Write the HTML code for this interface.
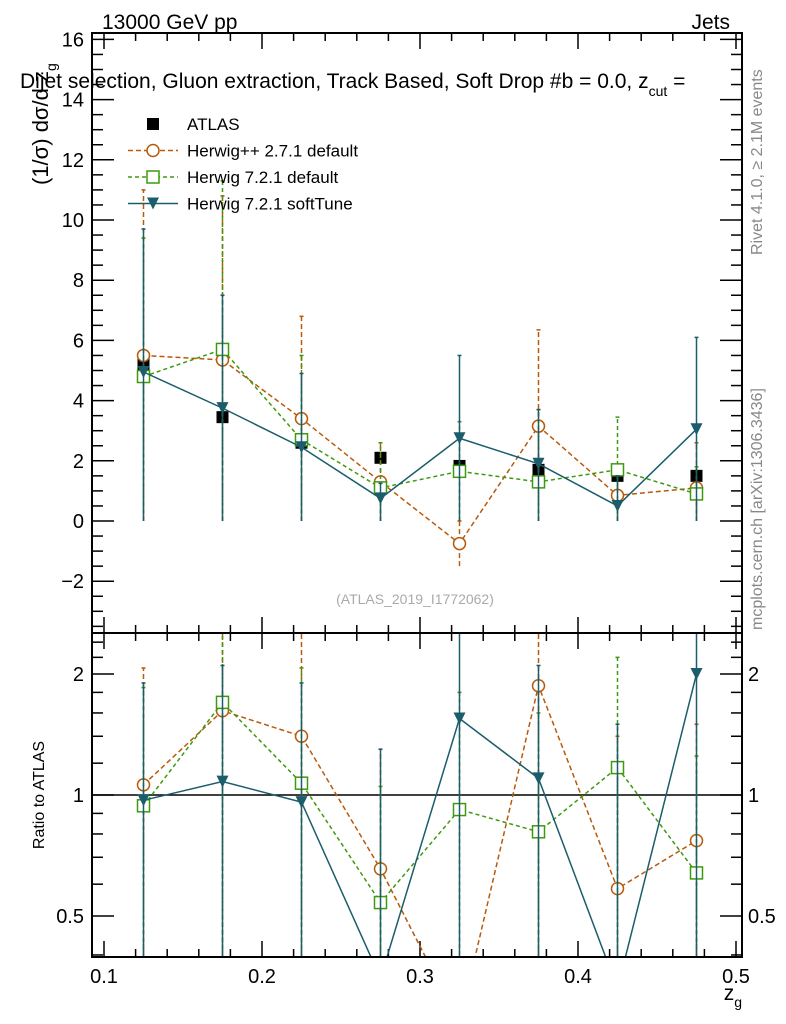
<!DOCTYPE html>
<html><head><meta charset="utf-8"><style>
html,body{margin:0;background:#fff;overflow:hidden;width:786px;height:1024px;}
svg{display:block;font-family:"Liberation Sans",sans-serif;}
</style></head><body>
<svg id="c" width="786" height="1024" viewBox="0 0 786 1024">
<text x="102" y="29" font-size="21">13000 GeV pp</text>
<text x="730" y="29" font-size="21" text-anchor="end">Jets</text>
<text x="20" y="88" font-size="21">Dijet selection, Gluon extraction, Track Based, Soft Drop #b = 0.0, z<tspan font-size="14" dy="8">cut</tspan><tspan dy="-8"> =</tspan></text>
<text transform="translate(48,185) rotate(-90)" font-size="22">(1/σ) dσ/d z<tspan font-size="14" dy="8">g</tspan></text>
<text transform="translate(44,795) rotate(-90)" font-size="16" text-anchor="middle">Ratio to ATLAS</text>
<text x="742" y="1000" font-size="21" text-anchor="end">z<tspan font-size="14" dy="7">g</tspan></text>
<text transform="translate(762,255) rotate(-90)" font-size="16" fill="#888">Rivet 4.1.0, ≥ 2.1M events</text>
<text transform="translate(762,630) rotate(-90)" font-size="16" fill="#888">mcplots.cern.ch [arXiv:1306.3436]</text>
<text x="415" y="604" font-size="14" fill="#aaa" text-anchor="middle">(ATLAS_2019_I1772062)</text>
<g id="g"></g>
</svg>
<script>
const xs=[0.125,0.175,0.225,0.275,0.325,0.375,0.425,0.475];
const atlas=[5.2,3.45,2.6,2.1,1.83,1.7,1.5,1.5];
const hpp=[5.5,5.35,3.4,1.3,-0.75,3.15,0.85,1.1];
const hppUp=[11.0,10.8,6.8,2.6,0.0,6.35,1.6,2.6];
const hppLo=[0,0,0,0,-1.5,0,0,0];
const h7=[4.8,5.7,2.7,1.1,1.65,1.3,1.7,0.9];
const h7Up=[9.4,11.3,5.5,2.6,3.3,3.7,3.45,1.8];
const soft=[4.95,3.75,2.45,0.75,2.75,1.9,0.5,3.05];
const softUp=[9.7,7.5,4.9,1.25,5.5,3.7,1.5,6.1];
const rHpp=[1.06,1.62,1.4,0.655,0.27,1.87,0.585,0.77];
const rHppUp=[2.07,3,3,1.3,0.3,3,1.4,1.5];
const rH7=[0.94,1.7,1.07,0.54,0.92,0.81,1.17,0.64];
const rH7Up=[1.85,3,2.07,1.05,1.8,1.6,2.2,1.25];
const rSoft=[0.97,1.08,0.96,0.35,1.55,1.1,0.33,2.0];
const rSoftUp=[1.9,2.1,1.9,1.3,3,2.1,1.5,3];
const xTicks=[0.1,0.2,0.3,0.4,0.5];
const yTicks=[-2,0,2,4,6,8,10,12,14,16];
const rTicks=[0.5,1,2];
const L=92,R=742,T=33,M=633,B=957;
const X=v=>104+(v-0.1)*1580;
const Y=v=>521-v*30.1;
const RY=v=>{if(v<=0)v=0.01;return 795-Math.log10(v)*402;};
const g=document.getElementById('g');
const NS='http://www.w3.org/2000/svg';
function el(t,a,p){const e=document.createElementNS(NS,t);for(const k in a)e.setAttribute(k,a[k]);(p||g).appendChild(e);return e;}
const cpM=el('clipPath',{id:'cm'});el('rect',{x:L,y:T,width:R-L,height:M-T},cpM);
const cpR=el('clipPath',{id:'cr'});el('rect',{x:L,y:M,width:R-L,height:B-M},cpR);
const tk=el('g',{stroke:'#000','stroke-width':1.5});


for(let v=0.1;v<=0.5001;v+=0.02){const big=Math.abs(v*10-Math.round(v*10))<1e-6;const len=big?16:8;const x=X(v);
 [[T,1],[M,-1],[M,1],[B,-1]].forEach(([y,d])=>el('line',{x1:x,x2:x,y1:y,y2:y+d*len},tk));}
for(let v=-3.5;v<=16.01;v+=0.5){const big=Math.abs(v/2-Math.round(v/2))<1e-6;const len=big?22:11;const y=Y(v);if(y<T||y>M)continue;
 el('line',{x1:L,x2:L+len,y1:y,y2:y},tk);el('line',{x1:R,x2:R-len,y1:y,y2:y},tk);}
[0.4,0.5,0.6,0.7,0.8,0.9,1,1.2,1.4,1.6,1.8,2,2.2,2.4].forEach(v=>{const big=rTicks.includes(v);const len=big?22:11;const y=RY(v);
 el('line',{x1:L,x2:L+len,y1:y,y2:y},tk);el('line',{x1:R,x2:R-len,y1:y,y2:y},tk);});
xTicks.forEach(v=>{const t=el('text',{x:X(v),y:983,'font-size':20,'text-anchor':'middle'});t.textContent=v.toFixed(1);
 });
yTicks.forEach(v=>{const t=el('text',{x:84,y:Y(v)+7,'font-size':20,'text-anchor':'end'});t.textContent=v<0?'−'+(-v):v;
 });
rTicks.forEach(v=>{const lab=v===0.5?'0.5':String(v);
 const t=el('text',{x:84,y:RY(v)+7,'font-size':20,'text-anchor':'end'});t.textContent=lab;
 
 const t2=el('text',{x:748,y:RY(v)+7,'font-size':20});t2.textContent=lab;
 });
el('line',{x1:L,x2:R,y1:RY(1),y2:RY(1),stroke:'#000','stroke-width':1.5});
function series(vals,lo,up,color,dash,marker,yf,clip,name){
 const gg=el('g',{'clip-path':'url(#'+clip+')'});
 
 
 xs.forEach((x,i)=>{const y1=yf(lo[i]),y2=yf(up[i]);
  el('line',{x1:X(x),x2:X(x),y1:y1,y2:y2,stroke:color,'stroke-width':1.5,'stroke-dasharray':dash},gg);
  el('line',{x1:X(x)-2,x2:X(x)+2,y1:y2,y2:y2,stroke:color,'stroke-width':1.5},gg);});
 el('polyline',{points:xs.map((x,i)=>X(x)+','+yf(vals[i])).join(' '),fill:'none',stroke:color,'stroke-width':1.5,'stroke-dasharray':dash},gg);
 xs.forEach((x,i)=>drawM(marker,X(x),yf(vals[i]),color,gg));}
function drawM(m,x,y,c,p){
 if(m==='o')el('circle',{cx:x,cy:y,r:6,fill:'#fff',stroke:c,'stroke-width':1.5},p);
 else if(m==='s')el('rect',{x:x-6,y:y-6,width:12,height:12,fill:'#fff',stroke:c,'stroke-width':1.5},p);
 else if(m==='v')el('polygon',{points:`${x-6},${y-6} ${x+6},${y-6} ${x},${y+6}`,fill:c},p);
 else el('rect',{x:x-6,y:y-6,width:12,height:12,fill:'#000'},p);}
const zero=xs.map(()=>0),rzero=xs.map(()=>0.01);
const cO='#b85a0c',cG='#3d9a0e',cS='#1b5d6b';
const ag=el('g',{'clip-path':'url(#cm)'});


xs.forEach((x,i)=>drawM('a',X(x),Y(atlas[i]),'#000',ag));
series(hpp,hppLo,hppUp,cO,'5,3','o',Y,'cm','herwigpp-series');
series(h7,zero,h7Up,cG,'4,3','s',Y,'cm','herwig7-default-series');
series(soft,zero,softUp,cS,'none','v',Y,'cm','herwig7-softtune-series');
series(rHpp,rzero,rHppUp,cO,'5,3','o',RY,'cr','herwigpp-ratio');
series(rH7,rzero,rH7Up,cG,'4,3','s',RY,'cr','herwig7-default-ratio');
series(rSoft,rzero,rSoftUp,cS,'none','v',RY,'cr','herwig7-softtune-ratio');
el('rect',{x:L,y:T,width:R-L,height:M-T,fill:'none',stroke:'#000','stroke-width':2});
el('rect',{x:L,y:M,width:R-L,height:B-M,fill:'none',stroke:'#000','stroke-width':2});
const lg=[['a','#000','none','ATLAS'],['o',cO,'5,3','Herwig++ 2.7.1 default'],['s',cG,'4,3','Herwig 7.2.1 default'],['v',cS,'none','Herwig 7.2.1 softTune']];
lg.forEach((e,i)=>{const y=124+i*26.5;const gg=el('g',{});
 
 
 if(e[0]!=='a')el('line',{x1:128,x2:178,y1:y,y2:y,stroke:e[1],'stroke-width':1.5,'stroke-dasharray':e[2]},gg);
 drawM(e[0],153,y,e[1],gg);
 const t=el('text',{x:187,y:y+6,'font-size':17},gg);t.textContent=e[3];});
</script>
</body></html>
